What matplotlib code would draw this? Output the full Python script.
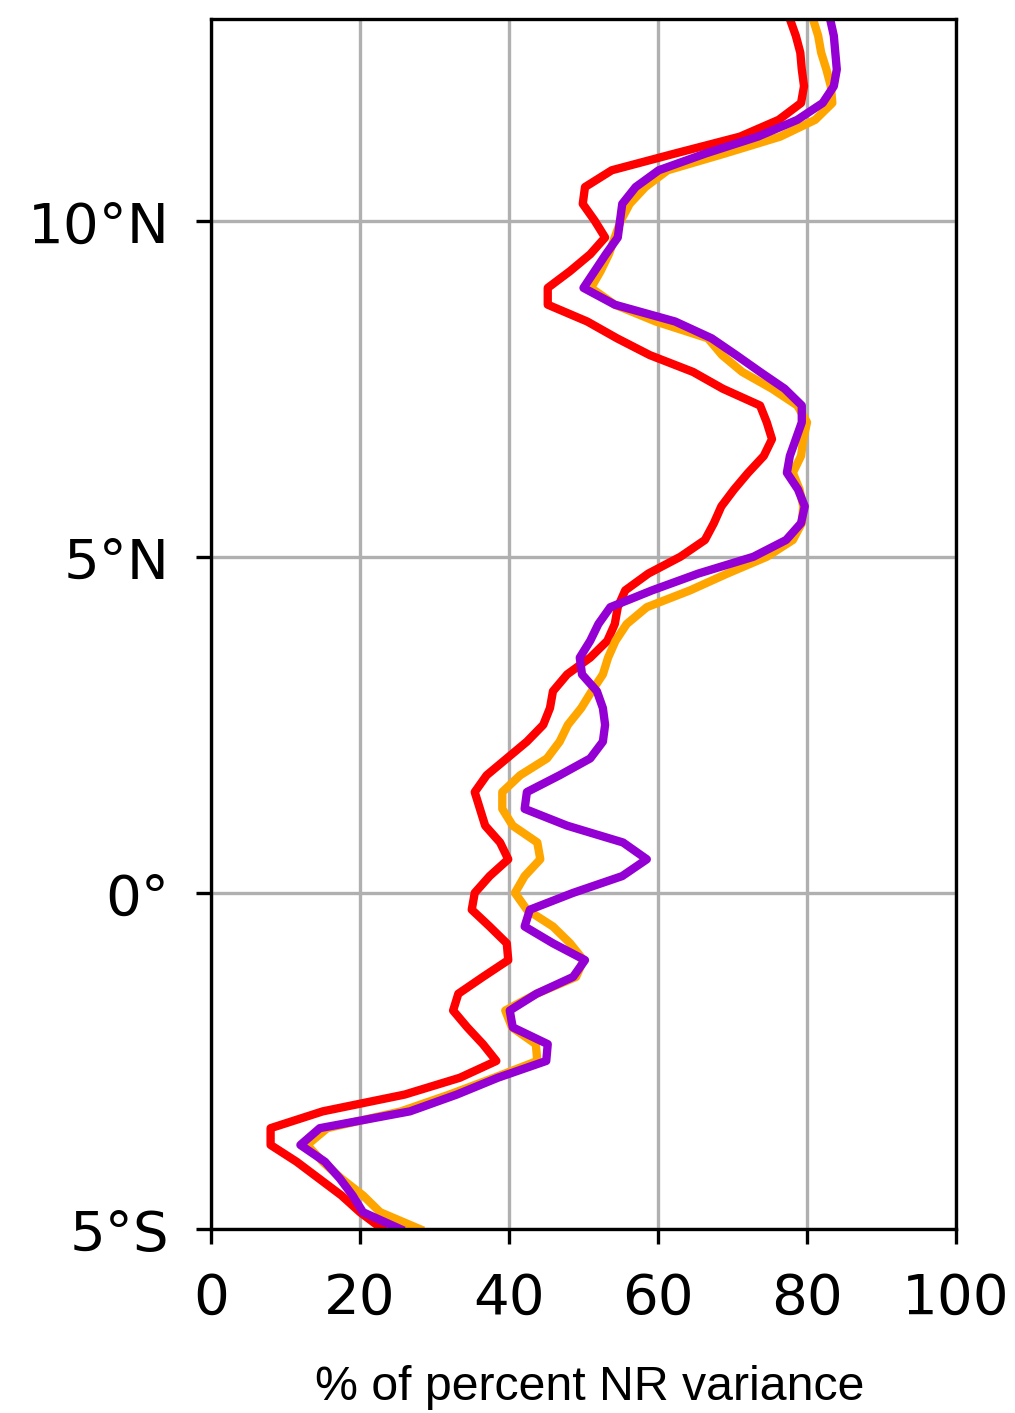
import numpy as np
import matplotlib.pyplot as plt

# latitude grid, 0.25 degree spacing from 5S to 13N
lat = np.arange(-5.0, 13.01, 0.25)

red_vals = [
    23, 20, 17.5, 14.5, 11.5, 8, 8, 15, 26, 33.4,
    38.3, 36.5, 34.4, 32.5, 33.2, 36.5, 39.9, 39.7, 37.4, 35,
    35.4, 37.4, 39.9, 38.8, 36.8, 36.1, 35.4, 37, 39.7, 42.4,
    44.6, 45.5, 45.9, 47.8, 50.9, 53.2, 54.2, 54.6, 55.6, 58.7,
    63, 66.3, 67.5, 68.5, 70.2, 72.1, 74.2, 75.3, 74.6, 73.7,
    68.7, 64.7, 58.9, 54.5, 50.5, 45.2, 45.2, 48.2, 50.9, 52.9,
    51.5, 49.9, 50.2, 53.8, 62.3, 71, 76.2, 79.2, 79.6, 79.3,
    79.1, 78.5, 77.7,
]

orange_vals = [
    28, 22.7, 20.4, 17.5, 15, 12.9, 15.6, 25.5, 32, 38,
    43.8, 43.6, 40.4, 39.5, 43.7, 49, 50, 48.2, 45.9, 42.4,
    40.8, 42.1, 44.2, 43.8, 40.5, 39.1, 39.1, 41.5, 45.1, 46.8,
    47.9, 49.7, 51.1, 52.6, 53.3, 54.3, 55.8, 58.5, 64.3, 69.3,
    74.6, 78.1, 79.3, 79.5, 79, 78.1, 79.2, 79.5, 80, 78.7,
    75.3, 71.3, 68.6, 66.7, 59.7, 54.2, 51, 52.3, 53.4, 54.2,
    55, 56.2, 58.3, 61.3, 69, 76.4, 81.1, 83.4, 83.2, 82.6,
    81.9, 81.5, 80.8,
]

purple_vals = [
    25.4, 20.4, 19, 17.3, 15.3, 12, 14.6, 26.7, 33, 38.5,
    45, 45.2, 40.5, 40.1, 43.7, 48.6, 50.2, 45.9, 42.1, 42.8,
    48.6, 55.2, 58.5, 55.3, 47.8, 42.1, 42.4, 46.8, 50.9, 52.6,
    52.9, 52.6, 51.8, 49.8, 49.5, 50.9, 52, 53.6, 59.2, 65.4,
    72.8, 77.2, 79.2, 79.7, 78.8, 77.3, 77.7, 78.5, 79.3, 79.3,
    77, 73.7, 70.5, 67.2, 62.3, 54.2, 50, 51.5, 53, 54.6,
    54.9, 55.2, 57, 60.1, 66.4, 73.4, 78.7, 82.1, 83.6, 84,
    83.8, 83.6, 83.1,
]

xticks = [0, 20, 40, 60, 80, 100]
yticks = [-5, 0, 5, 10]
ytick_labels = ["5°S", "0°", "5°N", "10°N"]

fig = plt.figure(figsize=(1015 / 300, 1414 / 300), dpi=300)
ax = fig.add_axes([211 / 1015, 184 / 1414, 745 / 1015, 1210 / 1414])

ax.plot(red_vals, lat, color="red", lw=2)
ax.plot(orange_vals, lat, color="orange", lw=2)
ax.plot(purple_vals, lat, color="darkviolet", lw=2)

ax.set_xlim(0, 100)
ax.set_ylim(-5, 13)
ax.set_xticks(xticks)
ax.set_yticks(yticks)
ax.set_yticklabels(ytick_labels)
ax.tick_params(labelsize=13.5)
ax.tick_params(axis="x", pad=6.5)
ax.tick_params(axis="y", pad=6.5)
ax.grid(True, color="#b0b0b0", lw=0.8)
ax.set_axisbelow(True)

fig.text(590 / 1015, 1 - 1388 / 1414, "% of percent NR variance",
         ha="center", va="center", fontsize=11.6, family="Liberation Sans")

fig.savefig("out.png", dpi=300)
